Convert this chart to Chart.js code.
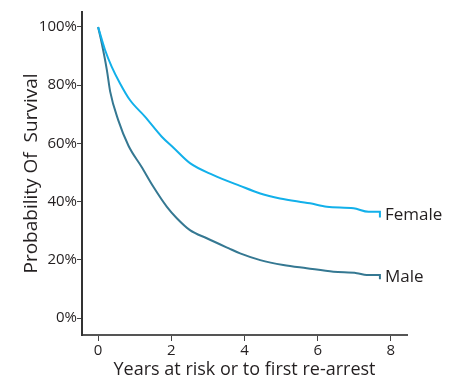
<!DOCTYPE html>
<html>
<head>
<meta charset="utf-8">
<script src="https://cdn.jsdelivr.net/npm/chart.js@4"></script>
<style>
  html, body { margin: 0; padding: 0; background: #fff; }
  #wrap { width: 458px; height: 381px; }
</style>
</head>
<body>
<div id="wrap"><canvas id="kmChart" width="458" height="381"></canvas></div>
<script>
// values (years, % surviving)
var femaleYears    = [0, 0.19, 0.37, 0.6, 0.87, 1.28, 1.74, 2.06, 2.51, 3.15, 3.88, 4.43, 4.97, 5.79, 6.25, 6.98, 7.39, 7.7, 7.7];
var femaleSurvival = [100, 92.1, 86.4, 80.6, 74.9, 69.2, 62.3, 58.5, 53.2, 49.1, 45.4, 42.8, 41.1, 39.4, 38.2, 37.7, 36.5, 36.5, 34.5];
var maleYears      = [0, 0.1, 0.24, 0.33, 0.55, 0.83, 1.19, 1.51, 1.88, 2.15, 2.51, 2.97, 3.56, 3.88, 4.43, 5.06, 5.7, 6.43, 7.07, 7.34, 7.7, 7.7];
var maleSurvival   = [100, 94.4, 85.2, 77.8, 68, 59.2, 51.9, 45.1, 38.2, 34.3, 30.2, 27.4, 24, 22.2, 19.9, 18.2, 17.1, 15.9, 15.4, 14.8, 14.8, 13.3];
var xTicks = [0, 2, 4, 6, 8];
var yTicks = [0, 20, 40, 60, 80, 100];
var seriesNames = ['Female', 'Male'];

function toPoints(xs, ys) {
  return xs.map(function (x, i) { return { x: x, y: ys[i] }; });
}

var FONT = 'Open Sans';
var TEXT = '#231f20';

// writes the series name next to the end of each curve
var endLabels = {
  id: 'endLabels',
  afterDatasetsDraw: function (chart) {
    var ctx = chart.ctx;
    ctx.save();
    ctx.font = '17px "' + FONT + '"';
    ctx.fillStyle = TEXT;
    ctx.textAlign = 'left';
    ctx.textBaseline = 'middle';
    chart.data.datasets.forEach(function (ds) {
      var n = ds.data.length;
      var a = ds.data[n - 2], b = ds.data[n - 1];
      var px = chart.scales.x.getPixelForValue(b.x) + 5;
      var py = chart.scales.y.getPixelForValue((a.y + b.y) / 2);
      ctx.fillText(ds.label, px, py);
    });
    ctx.restore();
  }
};

var ctx = document.getElementById('kmChart').getContext('2d');
var kmChart = new Chart(ctx, {
  type: 'line',
  data: {
    datasets: [{
      label: seriesNames[0],
      data: toPoints(femaleYears, femaleSurvival),
      borderColor: '#12b0ea',
      borderWidth: 2,
      pointRadius: 0,
      cubicInterpolationMode: 'monotone'
    }, {
      label: seriesNames[1],
      data: toPoints(maleYears, maleSurvival),
      borderColor: '#357892',
      borderWidth: 2,
      pointRadius: 0,
      cubicInterpolationMode: 'monotone'
    }]
  },
  options: {
    responsive: false,
    animation: false,
    layout: { padding: { left: 20, right: 51, top: 12, bottom: 0 } },
    plugins: {
      legend: { display: false },
      tooltip: { enabled: false }
    },
    scales: {
      x: {
        type: 'linear',
        min: -0.44,
        max: 8.44,
        afterBuildTicks: function (s) { s.ticks = xTicks.map(function (v) { return { value: v }; }); },
        afterFit: function (s) { s.height = 46; },
        grid: { drawOnChartArea: false, tickLength: 6, color: '#444', tickWidth: 1 },
        border: { color: '#555', width: 2 },
        ticks: { font: { family: FONT, size: 15 }, color: TEXT, padding: 1, maxRotation: 0 },
        title: {
          display: true,
          text: 'Years at risk or to first re-arrest',
          font: { family: FONT, size: 18 },
          color: TEXT,
          padding: { top: 0, bottom: 0 }
        }
      },
      y: {
        min: -5.84,
        max: 105.15,
        afterBuildTicks: function (s) { s.ticks = yTicks.map(function (v) { return { value: v }; }); },
        afterFit: function (s) { s.width = 62; },
        grid: { drawOnChartArea: false, tickLength: 5, color: '#444', tickWidth: 1 },
        border: { color: '#333', width: 2 },
        ticks: {
          font: { family: FONT, size: 15 },
          color: TEXT,
          padding: 0,
          callback: function (v) { return v + '%'; }
        },
        title: {
          display: true,
          text: 'Probability Of  Survival',
          font: { family: FONT, size: 19 },
          color: TEXT,
          padding: { top: 0, bottom: 0 }
        }
      }
    }
  },
  plugins: [endLabels]
});
</script>
</body>
</html>
